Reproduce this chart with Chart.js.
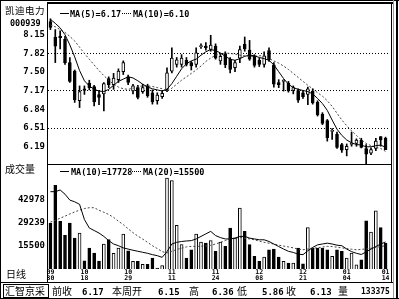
<!DOCTYPE html>
<html>
<head>
<meta charset="utf-8">
<script src="https://cdn.jsdelivr.net/npm/chart.js@4"></script>
<style>
body { margin:0; background:#fff; width:399px; height:299px; overflow:hidden; position:relative; }
canvas { position:absolute; left:0; }
#price { top:0; }
#vol { top:164px; }
.t { position:absolute; white-space:pre; font-family:"DejaVu Sans Mono",monospace; font-weight:bold; font-size:8.5px; line-height:1; color:#000; }
.c { position:absolute; white-space:pre; font-family:"Noto Sans CJK SC"; font-size:10px; line-height:1; color:#000; }
.ln { position:absolute; background:#000; }
.dot { position:absolute; height:0; border-top:1px dotted #000; }
</style>
</head>
<body>
<canvas id="price" width="399" height="166"></canvas>
<canvas id="vol" width="399" height="119"></canvas>

<!-- frame -->
<div class="ln" style="left:0;top:0;width:1px;height:299px"></div>
<div class="ln" style="left:0;top:0;width:399px;height:1px"></div>
<div class="ln" style="left:47px;top:2px;width:346px;height:2px"></div>
<div class="ln" style="left:47px;top:2px;width:1px;height:281px"></div>
<div class="ln" style="left:391px;top:2px;width:1px;height:281px"></div>
<div class="ln" style="left:393px;top:0;width:1px;height:299px;background:#999"></div>
<div class="ln" style="left:396px;top:0;width:2px;height:299px"></div>
<div class="ln" style="left:47px;top:164px;width:345px;height:1px"></div>
<div class="ln" style="left:0;top:282px;width:393px;height:1px"></div>
<div class="ln" style="left:0;top:298px;width:399px;height:1px"></div>
<div style="position:absolute;left:3px;top:284px;width:44px;height:12px;border:1px solid #000"></div>

<div class="c" style="left:5px;top:6px;font-size:9.5px;letter-spacing:0.5px">凯迪电力</div>
<div class="t" style="left:10px;top:19px">000939</div>
<div class="c" style="left:5px;top:164px">成交量</div>
<div class="c" style="left:6px;top:269px">日线</div>
<div class="c" style="left:5px;top:286px">汇智京采</div>

<div id="legends"></div>

<script>
// daily candles, 09/30 .. 01/14
const opens = [8.38,8.11,8.12,8.07,7.66,7.51,6.99,7.20,7.30,7.24,
  7.10,7.11,7.38,7.27,7.36,7.50,7.41,7.16,7.22,7.15,
  7.25,7.13,6.99,7.06,7.19,7.51,7.63,7.63,7.70,7.66,
  7.63,7.94,7.95,7.89,7.95,7.69,7.82,7.72,7.57,7.74,
  7.98,7.88,7.77,7.70,7.63,7.87,7.62,7.31,7.33,7.30,
  7.17,7.17,7.13,7.10,7.16,6.96,6.75,6.64,6.45,6.40,
  6.22,6.13,6.22,6.24,6.30,6.15,6.07,6.15,6.36,6.33];
const highs = [8.43,8.24,8.22,8.12,7.75,7.53,7.25,7.25,7.35,7.26,
  7.17,7.31,7.41,7.47,7.55,7.69,7.44,7.28,7.26,7.28,
  7.28,7.18,7.13,7.17,7.57,7.92,7.75,7.80,7.75,7.68,
  7.92,7.99,8.01,8.14,7.99,7.82,7.85,7.75,7.70,7.95,
  8.11,8.05,7.80,7.74,7.85,7.92,7.66,7.36,7.36,7.33,
  7.25,7.20,7.16,7.23,7.20,6.99,6.78,6.66,6.50,6.44,
  6.24,6.23,6.44,6.32,6.33,6.22,6.16,6.33,6.36,6.35];
const lows = [8.24,7.66,7.90,7.63,7.31,6.96,6.87,7.10,7.18,6.90,
  6.92,6.81,7.22,7.19,7.31,7.45,7.27,7.11,7.02,7.12,
  7.05,6.93,6.93,7.03,7.15,7.48,7.58,7.58,7.60,7.53,
  7.58,7.91,7.88,7.86,7.72,7.63,7.57,7.48,7.50,7.66,
  7.86,7.70,7.58,7.59,7.58,7.68,7.23,7.22,7.16,7.14,
  7.11,6.96,7.03,6.92,6.93,6.72,6.57,6.28,6.31,6.15,
  6.08,6.02,6.19,6.19,6.16,5.86,6.04,6.11,6.19,6.13];
const closes = [8.28,7.95,8.10,7.66,7.33,7.01,7.15,7.17,7.22,6.97,
  7.05,7.29,7.27,7.39,7.51,7.66,7.31,7.25,7.05,7.22,
  7.08,6.97,7.09,7.12,7.48,7.74,7.71,7.74,7.63,7.60,
  7.83,7.96,7.92,7.97,7.74,7.77,7.62,7.54,7.66,7.89,
  7.90,7.72,7.61,7.63,7.78,7.71,7.28,7.27,7.35,7.16,
  7.22,7.00,7.06,7.20,6.95,6.74,6.59,6.34,6.47,6.17,
  6.12,6.19,6.24,6.30,6.17,6.05,6.13,6.28,6.30,6.13];
const volumes = [28900,51200,29900,21600,28900,20000,23000,6500,14100,11100,
  6400,16500,19100,11000,14100,22400,12500,6200,6200,4400,
  4400,8200,2200,3700,55500,54000,27500,16100,8200,13100,
  22400,17600,17000,18500,12100,17600,15100,25900,20000,37800,
  24000,16100,9200,6200,8800,13100,13500,8800,6200,5200,
  5200,14100,4800,26300,14100,14100,14100,13100,9200,13100,
  12100,8200,11100,4200,7200,30300,23600,36200,26300,17000];

// moving average lines
const ma5 = [8.42,8.35,8.27,8.15,7.97,7.76,7.52,7.34,7.25,7.19,
  7.16,7.15,7.19,7.26,7.33,7.37,7.41,7.39,7.34,7.28,
  7.23,7.20,7.18,7.16,7.19,7.29,7.42,7.55,7.64,7.69,
  7.72,7.79,7.85,7.89,7.87,7.83,7.77,7.72,7.70,7.73,
  7.77,7.79,7.78,7.75,7.73,7.70,7.62,7.50,7.38,7.28,
  7.22,7.19,7.17,7.15,7.11,7.03,6.94,6.82,6.65,6.49,
  6.38,6.30,6.25,6.22,6.21,6.18,6.18,6.20,6.21,6.17];
const ma10 = [8.32,8.29,8.24,8.19,8.12,8.04,7.93,7.82,7.72,7.62,
  7.52,7.43,7.35,7.28,7.23,7.20,7.19,7.21,7.24,7.25,
  7.25,7.24,7.22,7.20,7.16,7.21,7.28,7.35,7.41,7.47,
  7.53,7.60,7.68,7.74,7.79,7.81,7.83,7.82,7.81,7.79,
  7.78,7.77,7.77,7.78,7.78,7.73,7.69,7.65,7.60,7.54,
  7.47,7.40,7.33,7.26,7.20,7.13,7.07,6.99,6.89,6.77,
  6.65,6.55,6.46,6.38,6.30,6.24,6.20,6.17,6.15,6.10];
const volMa10 = [47500,47500,48500,46000,42500,41500,40000,31000,26000,24500,
  23000,21000,18500,16500,15500,14200,13500,12800,12200,11600,
  11000,10200,9600,8600,12000,16500,17500,18000,18300,18500,
  19500,21000,22500,24000,21500,20300,19500,19500,20000,21000,
  21000,20000,19500,19000,19000,18000,16500,15000,13500,12200,
  11500,10500,10200,12500,14500,16000,16500,17000,16500,15800,
  15500,13500,12000,11000,10300,11800,13500,15000,16500,17728];
const volMa20 = [29500,30500,31800,33000,34300,35500,36600,37500,38000,38000,
  36500,35300,34000,32300,30000,28000,25500,23200,21200,19400,
  17500,15500,13800,12000,11200,12200,13300,14000,14800,15100,
  15100,15200,15400,15700,16500,17500,18500,19500,20000,20500,
  20000,19500,19000,18200,17500,17000,16500,15800,15300,14800,
  14200,13500,13100,13500,14000,14300,14700,15100,15000,14600,
  14200,13800,13400,13100,13300,13600,14000,14500,15000,15500];

const priceTicks = [6.19, 6.51, 6.84, 7.17, 7.50, 7.82, 8.15];
const priceGrid = [6.51, 7.17, 7.82];
const volTicks = [15500, 29239, 42978];
const dateTicks = ['09/30','10/18','10/29','11/11','11/24','12/08','12/21','01/04','01/14'];
const dateTickIdx = [0, 7, 16, 25, 34, 43, 52, 61, 69];
const summary = [['前收','6.17'],['本周开','6.15'],['高','6.36'],['低','5.86'],['收','6.13'],['量','133375']];

const idx = opens.map((_, i) => i);
const fill = opens.map((o, i) => closes[i] >= o ? '#fff' : '#000');
const tickFont = { family: 'DejaVu Sans Mono', size: 9, weight: 'bold' };

function noPad(s) { s.paddingLeft = 0; s.paddingRight = 0; s.paddingTop = 0; s.paddingBottom = 0; }

new Chart(document.getElementById('price'), {
  type: 'bar',
  data: {
    labels: idx,
    datasets: [
      { type: 'line', data: ma5, borderColor: '#000', borderWidth: 1, pointRadius: 0, order: 0 },
      { type: 'line', data: ma10, borderColor: '#444', borderWidth: 1, borderDash: [2, 2], pointRadius: 0, order: 0 },
      { data: opens.map((o, i) => [o, closes[i]]), backgroundColor: fill, borderColor: '#000', borderWidth: 1,
        borderSkipped: false, barThickness: 3, grouped: false, order: 1 },
      { data: lows.map((l, i) => [l, highs[i]]), backgroundColor: '#000', barThickness: 1, grouped: false, order: 2 }
    ]
  },
  options: {
    responsive: false,
    animation: false,
    layout: { padding: { top: 4, right: 11, bottom: 1, left: 0 } },
    plugins: { legend: { display: false }, tooltip: { enabled: false } },
    scales: {
      x: { display: false, offset: true },
      y: {
        min: 5.86, max: 8.69,
        afterBuildTicks: s => { s.ticks = priceTicks.map(v => ({ value: v })); },
        afterFit: s => { s.width = 48; noPad(s); },
        ticks: { font: tickFont, color: '#000', padding: 3, callback: v => v.toFixed(2) },
        grid: { drawTicks: false, lineWidth: 1,
          color: c => (c.tick && priceGrid.includes(c.tick.value)) ? '#000' : 'rgba(0,0,0,0)' },
        border: { display: false, dash: [1, 2] }
      }
    }
  }
});

new Chart(document.getElementById('vol'), {
  type: 'bar',
  data: {
    labels: idx,
    datasets: [
      { type: 'line', data: volMa10, borderColor: '#000', borderWidth: 1, pointRadius: 0, order: 0 },
      { type: 'line', data: volMa20, borderColor: '#444', borderWidth: 1, borderDash: [2, 2], pointRadius: 0, order: 0 },
      { data: volumes, backgroundColor: fill, borderColor: '#000', borderWidth: 1,
        borderSkipped: false, barThickness: 3, grouped: false, order: 1 }
    ]
  },
  options: {
    responsive: false,
    animation: false,
    layout: { padding: { top: 1, right: 11, bottom: 0, left: 0 } },
    plugins: { legend: { display: false }, tooltip: { enabled: false } },
    scales: {
      x: {
        offset: true,
        grid: { display: false, drawTicks: false },
        border: { display: false },
        afterFit: s => { s.height = 14; noPad(s); },
        ticks: {
          autoSkip: false, maxRotation: 0, minRotation: 0, padding: 1, color: '#000',
          font: { family: 'DejaVu Sans Mono', size: 6.5, weight: 'bold', lineHeight: 0.85 },
          callback: (v, i) => { const k = dateTickIdx.indexOf(i); return k < 0 ? '' : dateTicks[k].split('/'); }
        }
      },
      y: {
        min: 1700, max: 63300,
        afterBuildTicks: s => { s.ticks = volTicks.map(v => ({ value: v })); },
        afterFit: s => { s.width = 48; noPad(s); },
        ticks: { font: tickFont, color: '#000', padding: 3, callback: v => String(v) },
        grid: { display: false, drawTicks: false },
        border: { display: false }
      }
    }
  }
});

// legends and bottom quote bar
const box = document.getElementById('legends');
function put(cls, x, y, txt) {
  const d = document.createElement('div');
  d.className = cls; d.style.left = x + 'px'; d.style.top = y + 'px'; d.textContent = txt;
  box.appendChild(d); return d;
}
function solid(x, y, w) { const d = put('ln', x, y, ''); d.style.width = w + 'px'; d.style.height = '1px'; }
function dotted(x, y, w) { const d = put('dot', x, y, ''); d.style.width = w + 'px'; }

const last = a => a[a.length - 1];
solid(60, 13, 9);  put('t', 70, 10, 'MA(5)=' + last(ma5).toFixed(2));
dotted(122, 13, 9); put('t', 133, 10, 'MA(10)=' + last(ma10).toFixed(2));
solid(60, 171, 9);  put('t', 71, 168, 'MA(10)=' + last(volMa10));
dotted(132, 171, 9); put('t', 143, 168, 'MA(20)=' + last(volMa20));

const sumX = [[52, 82], [112, 158], [189, 212], [237, 262], [286, 310], [338, 361]];
summary.forEach((s, i) => {
  const v = put('t', sumX[i][1], 288, s[1]);
  v.style.fontSize = (s[1].length > 4 ? 8 : 9) + 'px';
  put('c', sumX[i][0], 286, s[0]);
});
</script>
</body>
</html>
